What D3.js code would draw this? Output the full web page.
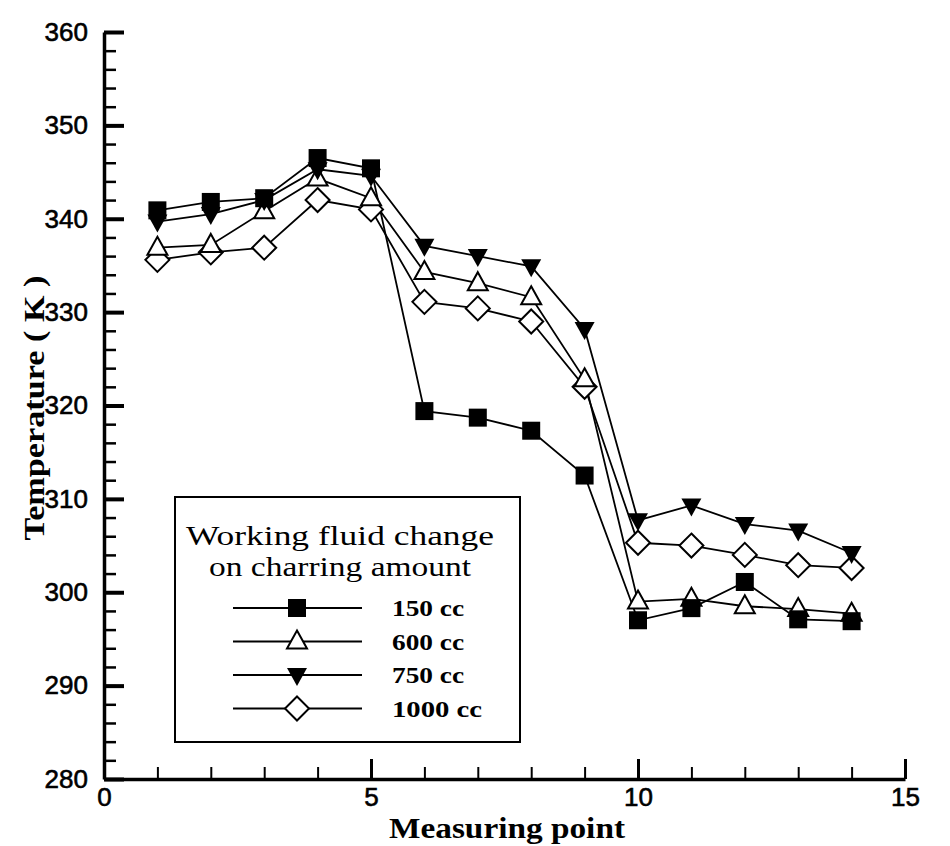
<!DOCTYPE html>
<html>
<head>
<meta charset="utf-8">
<script src="https://cdn.jsdelivr.net/npm/d3@7"></script>
<style>
  body { margin: 0; background: #fff; }
  svg { display: block; }
</style>
</head>
<body>
<div id="chart"></div>
<script>
// measuring points 1..14
var points = [1, 2, 3, 4, 5, 6, 7, 8, 9, 10, 11, 12, 13, 14];

// temperatures (K)
var cc150  = [340.9, 341.8, 342.2, 346.5, 345.4, 319.4, 318.7, 317.3, 312.5, 297.0, 298.3, 301.1, 297.1, 296.9];
var cc600  = [336.9, 337.2, 340.8, 344.3, 342.2, 334.3, 333.1, 331.6, 322.8, 299.0, 299.3, 298.5, 298.2, 297.7];
var cc750  = [339.7, 340.5, 342.0, 345.3, 344.6, 337.1, 336.0, 334.9, 328.2, 307.7, 309.3, 307.3, 306.6, 304.2];
var cc1000 = [335.6, 336.4, 336.9, 342.0, 341.0, 331.1, 330.4, 329.0, 322.0, 305.3, 305.0, 304.0, 302.9, 302.6];

var seriesNames = ["150 cc", "600 cc", "750 cc", "1000 cc"];
var seriesMarks = ["square", "triangle", "triangleDown", "diamond"];

var xTicks = [0, 5, 10, 15];
var yTicks = [280, 290, 300, 310, 320, 330, 340, 350, 360];

var legendTitle = ["Working fluid change", "on charring amount"];

var svg = d3.select("#chart").append("svg")
  .attr("width", 950)
  .attr("height", 846);

// plot bounds (window.top is read-only, so use other names)
var plotL = 104, plotR = 905, plotT = 32, plotB = 779;

var x = d3.scaleLinear().domain([0, 15]).range([plotL, plotR]);
var y = d3.scaleLinear().domain([280, 360]).range([plotB, plotT]);

var sansFont = "Liberation Sans, Arial, sans-serif";
var serifFont = "Liberation Serif, Times New Roman, serif";

// minor ticks
svg.append("g")
  .attr("transform", "translate(" + plotL + ",0)")
  .call(d3.axisLeft(y).tickValues(d3.range(280, 361, 2)).tickSize(-12).tickFormat(""))
  .call(function (g) { g.select(".domain").remove(); })
  .selectAll("line").attr("stroke", "#000").attr("stroke-width", 2.5);

svg.append("g")
  .attr("transform", "translate(0," + plotB + ")")
  .call(d3.axisBottom(x).tickValues(d3.range(0, 16, 1)).tickSize(-12).tickFormat(""))
  .call(function (g) { g.select(".domain").remove(); })
  .selectAll("line").attr("stroke", "#000").attr("stroke-width", 2);

// major axes
var yAxis = svg.append("g")
  .attr("transform", "translate(" + plotL + ",0)")
  .call(d3.axisLeft(y).tickValues(yTicks).tickSize(-20).tickPadding(16).tickSizeOuter(0));
yAxis.select(".domain").attr("stroke", "#000").attr("stroke-width", 3.5);
yAxis.selectAll("line").attr("stroke", "#000").attr("stroke-width", 4);
yAxis.selectAll("text")
  .style("font-family", sansFont)
  .style("font-size", "26px")
  .attr("fill", "#000")
  .attr("stroke", "#000")
  .attr("stroke-width", 0.6);

var xAxis = svg.append("g")
  .attr("transform", "translate(0," + plotB + ")")
  .call(d3.axisBottom(x).tickValues(xTicks).tickSize(-20).tickPadding(9).tickSizeOuter(0));
xAxis.select(".domain").attr("stroke", "#000").attr("stroke-width", 3.5);
xAxis.selectAll("line").attr("stroke", "#000").attr("stroke-width", 3);
xAxis.selectAll("text")
  .style("font-family", sansFont)
  .style("font-size", "26px")
  .attr("fill", "#000")
  .attr("stroke", "#000")
  .attr("stroke-width", 0.6);

// axis titles
svg.append("text")
  .attr("x", 507)
  .attr("y", 838)
  .attr("text-anchor", "middle")
  .attr("textLength", 236)
  .attr("lengthAdjust", "spacingAndGlyphs")
  .style("font-family", serifFont)
  .style("font-weight", "bold")
  .style("font-size", "29px")
  .text("Measuring point");

svg.append("text")
  .attr("transform", "translate(44,408) rotate(-90)")
  .attr("text-anchor", "middle")
  .attr("textLength", 265)
  .attr("lengthAdjust", "spacingAndGlyphs")
  .style("font-family", serifFont)
  .style("font-weight", "bold")
  .style("font-size", "30px")
  .text("Temperature ( K )");

// marker drawing
function drawMarker(g, kind, cx, cy) {
  if (kind === "square") {
    g.append("rect")
      .attr("x", cx - 9).attr("y", cy - 9)
      .attr("width", 18).attr("height", 18)
      .attr("fill", "#000");
  } else if (kind === "triangle") {
    g.append("path")
      .attr("d", "M" + cx + "," + (cy - 11) + "L" + (cx + 10) + "," + (cy + 7) + "L" + (cx - 10) + "," + (cy + 7) + "Z")
      .attr("fill", "#fff").attr("stroke", "#000").attr("stroke-width", 2);
  } else if (kind === "triangleDown") {
    g.append("path")
      .attr("d", "M" + (cx - 10) + "," + (cy - 7) + "L" + (cx + 10) + "," + (cy - 7) + "L" + cx + "," + (cy + 11) + "Z")
      .attr("fill", "#000");
  } else {
    g.append("path")
      .attr("d", "M" + cx + "," + (cy - 12) + "L" + (cx + 12) + "," + cy + "L" + cx + "," + (cy + 12) + "L" + (cx - 12) + "," + cy + "Z")
      .attr("fill", "#fff").attr("stroke", "#000").attr("stroke-width", 2);
  }
}

var allSeries = [cc150, cc600, cc750, cc1000];
var line = d3.line()
  .x(function (d, i) { return x(points[i]); })
  .y(function (d) { return y(d); });

// lines first, then markers on top
allSeries.forEach(function (vals) {
  svg.append("path")
    .datum(vals)
    .attr("d", line)
    .attr("fill", "none")
    .attr("stroke", "#000")
    .attr("stroke-width", 1.8);
});
var order = [3, 1, 2, 0];
order.forEach(function (s) {
  var g = svg.append("g");
  allSeries[s].forEach(function (v, i) {
    drawMarker(g, seriesMarks[s], x(points[i]), y(v));
  });
});

// legend
var lg = svg.append("g");
lg.append("rect")
  .attr("x", 175).attr("y", 497)
  .attr("width", 345).attr("height", 245)
  .attr("fill", "#fff")
  .attr("stroke", "#000")
  .attr("stroke-width", 2);

var titleWidths = [308, 262];
lg.selectAll("text.title")
  .data(legendTitle)
  .enter()
  .append("text")
  .attr("class", "title")
  .attr("x", 340)
  .attr("y", function (d, i) { return 545 + i * 31; })
  .attr("text-anchor", "middle")
  .attr("textLength", function (d, i) { return titleWidths[i]; })
  .attr("lengthAdjust", "spacingAndGlyphs")
  .style("font-family", serifFont)
  .style("font-size", "27px")
  .text(function (d) { return d; });

seriesNames.forEach(function (name, i) {
  var ry = 608 + i * 33.5;
  lg.append("line")
    .attr("x1", 233).attr("x2", 362)
    .attr("y1", ry).attr("y2", ry)
    .attr("stroke", "#000").attr("stroke-width", 1.8);
  drawMarker(lg, seriesMarks[i], 297, ry);
  lg.append("text")
    .attr("x", 392)
    .attr("y", ry + 8)
    .attr("textLength", name.length === 6 ? 72 : 90)
    .attr("lengthAdjust", "spacingAndGlyphs")
    .style("font-family", serifFont)
    .style("font-weight", "bold")
    .style("font-size", "24px")
    .text(name);
});
</script>
</body>
</html>
